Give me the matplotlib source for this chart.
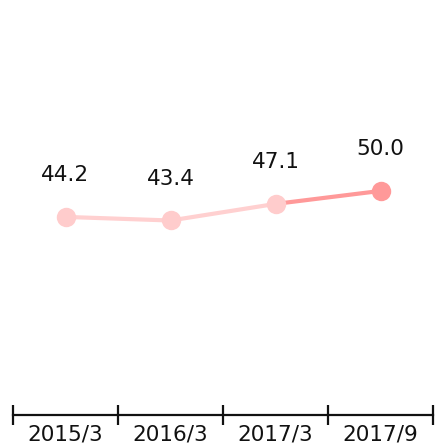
import matplotlib
matplotlib.use("Agg")
import matplotlib.pyplot as plt
from matplotlib.ticker import FixedLocator

categories = ["2015/3", "2016/3", "2017/3", "2017/9"]
values = [44.2, 43.4, 47.1, 50.0]
marker_colors = ["#ffcccc", "#ffcccc", "#ffcccc", "#ff9999"]
segment_colors = ["#ffd0d0", "#ffd0d0", "#ff9999"]

plt.rcParams['font.family'] = ['DejaVu Sans']

fig = plt.figure(figsize=(4.37, 4.45), dpi=100)
ax = fig.add_axes([13/437, 30/445, 420/437, 415/445])

x = list(range(len(categories)))
for i in range(len(values) - 1):
    ax.plot(x[i:i+2], values[i:i+2], color=segment_colors[i], lw=3, solid_capstyle='butt', zorder=2)
for i, v in enumerate(values):
    ax.plot(x[i], v, 'o', ms=14, color=marker_colors[i], mec='none', zorder=3)
    ax.annotate(f"{v:.1f}", (x[i], v), xytext=(0, 30), textcoords='offset points',
                ha='center', va='center', fontsize=15.5, color='#111111')

ax.set_xlim(-0.5, len(categories) - 0.5)
ax.set_ylim(0, 92.6)
for s in ['top', 'right', 'left']:
    ax.spines[s].set_visible(False)
ax.spines['bottom'].set_linewidth(1.6)
ax.spines['bottom'].set_color('#111111')
ax.set_yticks([])
ax.xaxis.set_major_locator(FixedLocator([i - 0.5 for i in range(len(categories) + 1)]))
ax.xaxis.set_minor_locator(FixedLocator(x))
ax.xaxis.set_major_formatter(plt.NullFormatter())
ax.set_xticks(x, minor=True)
ax.set_xticklabels(categories, minor=True, fontsize=15.5, color='#111111')
ax.tick_params(axis='x', which='major', direction='inout', length=14, width=1.6, color='#111111')
ax.tick_params(axis='x', which='minor', length=0, pad=6.5)
ax.patch.set_alpha(0)

fig.savefig("out.png", dpi=100)
